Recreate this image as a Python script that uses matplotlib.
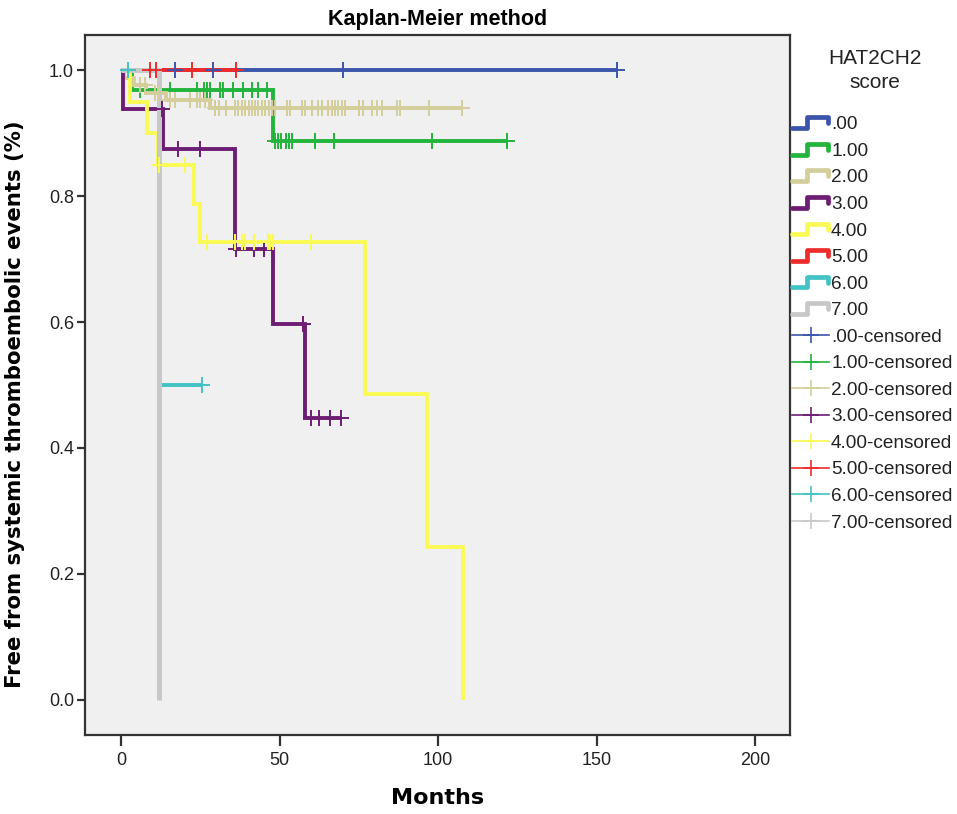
import numpy as np
import matplotlib
matplotlib.use("Agg")
import matplotlib.pyplot as plt
from matplotlib.legend_handler import HandlerBase
from matplotlib.lines import Line2D

# ---------------- data ----------------
groups = [".00", "1.00", "2.00", "3.00", "4.00", "5.00", "6.00", "7.00"]
colors = ["#3C55AA", "#22B43C", "#D4CE9A", "#6E1D74", "#FAFA55", "#EE2C2C", "#43C2C6", "#C8C8C8"]

# event step times / survival values (step-post), and last follow-up time
step_t = [
    [0],
    [0, 3.5, 48],
    [0, 1, 4, 8, 14, 28],
    [0, 0.7, 13.3, 36, 48, 58],
    [0, 2.8, 8.1, 11.5, 23, 25, 77, 96.4, 108],
    [0],
    [0, 12.2],
    [0, 11.8],
]
step_s = [
    [1.0],
    [1.0, 0.969, 0.888],
    [1.0, 0.988, 0.976, 0.964, 0.952, 0.939],
    [1.0, 0.9375, 0.875, 0.716, 0.597, 0.448],
    [1.0, 0.95, 0.90, 0.85, 0.788, 0.7275, 0.486, 0.243, 0.0],
    [1.0],
    [1.0, 0.5],
    [1.0, 0.0],
]
end_t = [156.5, 121.8, 107.5, 69.5, 108, 36.5, 25.5, 11.8]

censored = [
    [17, 29, 70, 156.5],
    [6, 15.5, 24, 26, 27, 28, 31.2, 32, 35.4, 38.4, 41.2, 43.3, 46, 48.6, 49.5, 50.5, 52, 53, 54, 61, 67, 98, 121.8],
    [6, 7.6, 10.7, 11.8, 15.5, 17, 21.8, 23.9, 24.9, 26.5, 29.7, 31, 33, 36.0, 37.0, 38.1, 39.1, 40.2, 41.2,
     42.3, 43.3, 44.4, 45.4, 46.5, 47.5, 48.6, 52.3, 53.3, 57.0, 58.0, 60.2, 62.2, 63.3, 65.4, 66.5,
     67.5, 68.5, 69.6, 70.7, 74.9, 76.4, 79.1, 80.7, 82.2, 87.0, 88.0, 97.0, 107.5],
    [12.8, 18, 25, 36.3, 42, 45, 57.3, 60, 62.5, 66, 69.5],
    [11.8, 20, 27, 36, 38, 39, 42, 46.3, 47, 47.8, 60],
    [9.1, 11, 22.3, 36.2],
    [2.1, 25.5],
    [],
]

xticks = [0, 50, 100, 150, 200]
yticks = [0.0, 0.2, 0.4, 0.6, 0.8, 1.0]

# ---------------- figure ----------------
fig = plt.figure(figsize=(9.57, 8.14), dpi=100)
fig.patch.set_facecolor("white")
ax = fig.add_axes([85 / 957, 1 - 735 / 814, (790 - 85) / 957, (735 - 35) / 814])
ax.set_facecolor("#F0F0F0")

for i in range(len(groups)):
    t = list(step_t[i]) + [end_t[i]]
    s = list(step_s[i]) + [step_s[i][-1]]
    lw = 3.6 if i == 7 else 2.8
    ax.step(t, s, where="post", color=colors[i], lw=lw, zorder=2 + i * 0.1,
            solid_capstyle="butt", solid_joinstyle="miter")

for i in range(len(groups)):
    if not censored[i]:
        continue
    ct = np.array(censored[i])
    idx = np.searchsorted(step_t[i], ct, side="right") - 1
    cs = np.array(step_s[i])[idx]
    ax.plot(ct, cs, linestyle="none", marker="+", markersize=11, mew=1.4,
            color=colors[i], zorder=4)

ax.set_xlim(-11.4, 211)
ax.set_ylim(-0.0556, 1.0556)
ax.set_xticks(xticks)
ax.set_yticks(yticks)
ax.set_yticklabels([f"{v:.1f}" for v in yticks])
for lab in ax.get_xticklabels() + ax.get_yticklabels():
    lab.set_family("Liberation Sans")
    lab.set_fontsize(13)
    lab.set_color("#222222")
ax.tick_params(axis="x", length=8, width=1.6, color="#333333", pad=4)
ax.tick_params(axis="y", length=6, width=1.6, color="#333333", pad=2)
for sp in ax.spines.values():
    sp.set_linewidth(1.6)
    sp.set_color("#333333")

ax.set_title("Kaplan-Meier method", fontsize=15.5, fontweight="bold",
             family="Liberation Sans", pad=7)
ax.set_xlabel("Months", fontsize=16, fontweight="bold", family="DejaVu Sans")
ax.xaxis.set_label_coords(0.5, (735 - 788) / 700)
ax.set_ylabel("Free from systemic thromboembolic events (%)", fontsize=15.3,
              fontweight="bold", family="DejaVu Sans")
ax.yaxis.set_label_coords(-60 / 705, (735 - 404) / 700)


# ---------------- legend ----------------
class StepHandler(HandlerBase):
    def create_artists(self, legend, orig_handle, xdescent, ydescent,
                       width, height, fontsize, trans):
        x0, y0 = -xdescent, -ydescent
        xs = np.array([0.0, 0.40, 0.40, 0.97, 0.97]) * width + x0
        ys = np.array([0.1, 0.1, 0.9, 0.9, 0.45]) * height + y0
        ln = Line2D(xs, ys, color=orig_handle.get_color(), lw=3.4,
                    solid_joinstyle="round", solid_capstyle="round", transform=trans)
        return [ln]


fig.text(875 / 957, 1 - 58 / 814, "HAT2CH2", ha="center", va="center",
         family="Liberation Sans", fontsize=15, color="#222222")
fig.text(875 / 957, 1 - 82 / 814, "score", ha="center", va="center",
         family="Liberation Sans", fontsize=15, color="#222222")

step_handles = [Line2D([], [], color=c) for c in colors]
cens_handles = [Line2D([0, 1], [0, 0], color=c, lw=1.2, marker="+", markersize=12, mew=1.2)
                for c in colors]
labels = groups + [g + "-censored" for g in groups]
handler_map = {h: StepHandler() for h in step_handles}
leg = fig.legend(step_handles + cens_handles, labels, handler_map=handler_map,
                 loc="upper left", bbox_to_anchor=(792 / 957, 1 - 116 / 814),
                 frameon=False, prop={"family": "Liberation Sans", "size": 13.7},
                 handlelength=1.95, handletextpad=0.1, labelspacing=0.485, borderpad=0,
                 borderaxespad=0)
for txt in leg.get_texts():
    txt.set_color("#222222")

fig.savefig("out.png", dpi=100, facecolor="white")
